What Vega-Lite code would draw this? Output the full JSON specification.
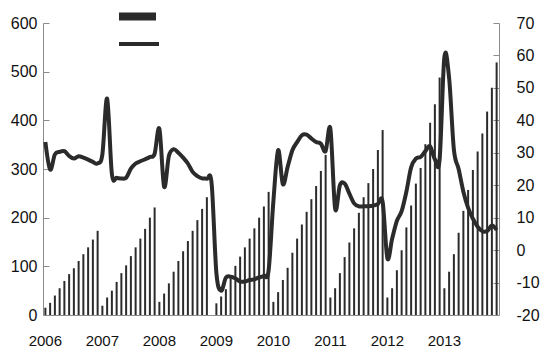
{
  "$schema": "https://vega.github.io/schema/vega-lite/v6.json",
  "width": 456,
  "height": 292,
  "autosize": {"type": "none"},
  "padding": {"left": 43, "top": 23, "right": 51, "bottom": 44},
  "background": "white",
  "config": {
    "view": {"stroke": null},
    "font": "Liberation Sans",
    "axis": {"labelFont": "Liberation Sans", "labelColor": "#111111", "domainColor": "#8c8c8c", "tickColor": "#8c8c8c", "grid": false, "title": null}
  },
  "data": {"values": [
    {"month": "2006-01", "output": 15, "growth": 33.3},
    {"month": "2006-02", "output": 25, "growth": 24.8},
    {"month": "2006-03", "output": 40, "growth": 29.5},
    {"month": "2006-04", "output": 55, "growth": 30.3},
    {"month": "2006-05", "output": 70, "growth": 30.5},
    {"month": "2006-06", "output": 84, "growth": 29},
    {"month": "2006-07", "output": 96, "growth": 28.2},
    {"month": "2006-08", "output": 111, "growth": 28.9},
    {"month": "2006-09", "output": 125, "growth": 28.5},
    {"month": "2006-10", "output": 139, "growth": 27.9},
    {"month": "2006-11", "output": 155, "growth": 27.2},
    {"month": "2006-12", "output": 173, "growth": 26.7},
    {"month": "2007-01", "output": 19, "growth": 29.5},
    {"month": "2007-02", "output": 36, "growth": 46.7},
    {"month": "2007-03", "output": 50, "growth": 23.5},
    {"month": "2007-04", "output": 68, "growth": 22.3},
    {"month": "2007-05", "output": 86, "growth": 22.1},
    {"month": "2007-06", "output": 102, "growth": 22.3},
    {"month": "2007-07", "output": 121, "growth": 25.1},
    {"month": "2007-08", "output": 139, "growth": 26.7},
    {"month": "2007-09", "output": 157, "growth": 27.4},
    {"month": "2007-10", "output": 177, "growth": 28},
    {"month": "2007-11", "output": 200, "growth": 28.7},
    {"month": "2007-12", "output": 221, "growth": 29.7},
    {"month": "2008-01", "output": 27, "growth": 37.4},
    {"month": "2008-02", "output": 44, "growth": 19.5},
    {"month": "2008-03", "output": 65, "growth": 29},
    {"month": "2008-04", "output": 89, "growth": 31.1},
    {"month": "2008-05", "output": 111, "growth": 30},
    {"month": "2008-06", "output": 131, "growth": 28.5},
    {"month": "2008-07", "output": 152, "growth": 26.7},
    {"month": "2008-08", "output": 173, "growth": 24.1},
    {"month": "2008-09", "output": 195, "growth": 22.8},
    {"month": "2008-10", "output": 218, "growth": 22.1},
    {"month": "2008-11", "output": 242, "growth": 22},
    {"month": "2008-12", "output": 0, "growth": 20.5},
    {"month": "2009-01", "output": 24, "growth": -7},
    {"month": "2009-02", "output": 38, "growth": -12.5},
    {"month": "2009-03", "output": 53, "growth": -8.5},
    {"month": "2009-04", "output": 75, "growth": -8.2},
    {"month": "2009-05", "output": 101, "growth": -8.7},
    {"month": "2009-06", "output": 120, "growth": -9.7},
    {"month": "2009-07", "output": 139, "growth": -9.7},
    {"month": "2009-08", "output": 157, "growth": -9.2},
    {"month": "2009-09", "output": 178, "growth": -9},
    {"month": "2009-10", "output": 200, "growth": -8.4},
    {"month": "2009-11", "output": 223, "growth": -7.9},
    {"month": "2009-12", "output": 253, "growth": -6.2},
    {"month": "2010-01", "output": 27, "growth": 15},
    {"month": "2010-02", "output": 47, "growth": 30.8},
    {"month": "2010-03", "output": 72, "growth": 20.3},
    {"month": "2010-04", "output": 97, "growth": 25.6},
    {"month": "2010-05", "output": 128, "growth": 30.8},
    {"month": "2010-06", "output": 157, "growth": 33.3},
    {"month": "2010-07", "output": 186, "growth": 35.4},
    {"month": "2010-08", "output": 212, "growth": 35.6},
    {"month": "2010-09", "output": 238, "growth": 34.4},
    {"month": "2010-10", "output": 265, "growth": 33.3},
    {"month": "2010-11", "output": 296, "growth": 32.8},
    {"month": "2010-12", "output": 329, "growth": 30.5},
    {"month": "2011-01", "output": 36, "growth": 37.4},
    {"month": "2011-02", "output": 55, "growth": 12.8},
    {"month": "2011-03", "output": 86, "growth": 20},
    {"month": "2011-04", "output": 119, "growth": 20.5},
    {"month": "2011-05", "output": 149, "growth": 17.4},
    {"month": "2011-06", "output": 178, "growth": 14.4},
    {"month": "2011-07", "output": 210, "growth": 13.5},
    {"month": "2011-08", "output": 242, "growth": 13.5},
    {"month": "2011-09", "output": 271, "growth": 13.5},
    {"month": "2011-10", "output": 300, "growth": 13.7},
    {"month": "2011-11", "output": 339, "growth": 14.2},
    {"month": "2011-12", "output": 380, "growth": 14.9},
    {"month": "2012-01", "output": 36, "growth": -2.5},
    {"month": "2012-02", "output": 55, "growth": 3.5},
    {"month": "2012-03", "output": 92, "growth": 9},
    {"month": "2012-04", "output": 133, "growth": 12},
    {"month": "2012-05", "output": 180, "growth": 18},
    {"month": "2012-06", "output": 225, "growth": 25.5},
    {"month": "2012-07", "output": 270, "growth": 28.2},
    {"month": "2012-08", "output": 302, "growth": 28.7},
    {"month": "2012-09", "output": 351, "growth": 30.5},
    {"month": "2012-10", "output": 395, "growth": 32},
    {"month": "2012-11", "output": 433, "growth": 28},
    {"month": "2012-12", "output": 488, "growth": 28},
    {"month": "2013-01", "output": 55, "growth": 59.5},
    {"month": "2013-02", "output": 89, "growth": 53},
    {"month": "2013-03", "output": 125, "growth": 31},
    {"month": "2013-04", "output": 169, "growth": 25},
    {"month": "2013-05", "output": 214, "growth": 18},
    {"month": "2013-06", "output": 257, "growth": 13},
    {"month": "2013-07", "output": 298, "growth": 9.7},
    {"month": "2013-08", "output": 336, "growth": 7.2},
    {"month": "2013-09", "output": 373, "growth": 5.8},
    {"month": "2013-10", "output": 418, "growth": 5.9},
    {"month": "2013-11", "output": 467, "growth": 7.6},
    {"month": "2013-12", "output": 519, "growth": 6.2}
  ]},
  "encoding": {
    "x": {
      "field": "month",
      "type": "ordinal",
      "sort": null,
      "scale": {"paddingInner": 0, "paddingOuter": 0},
      "axis": {
        "ticks": false,
        "labelAngle": 0,
        "labelFontSize": 15,
        "labelPadding": 18,
        "labelOverlap": false,
        "labelExpr": "substring(datum.value, 5, 7) == '01' ? substring(datum.value, 0, 4) : ''"
      }
    }
  },
  "layer": [
    {
      "mark": {"type": "bar", "width": 2},
      "encoding": {
        "y": {
          "field": "output",
          "type": "quantitative",
          "scale": {"domain": [0, 600], "nice": false},
          "axis": {"orient": "left", "values": [0, 100, 200, 300, 400, 500, 600], "tickSize": -6, "labelPadding": 12, "labelFontSize": 16}
        },
        "color": {
          "datum": "output",
          "scale": {"range": ["#2b2b2b"]},
          "legend": {
            "orient": "none", "legendX": 76, "legendY": -25, "title": null, "padding": 0,
            "symbolType": "M-1,-0.22H1V0.22H-1Z", "symbolSize": 1369, "symbolStrokeWidth": 0,
            "labelExpr": "''"
          }
        }
      }
    },
    {
      "mark": {"type": "line", "interpolate": "cardinal", "strokeWidth": 4},
      "encoding": {
        "y": {
          "field": "growth",
          "type": "quantitative",
          "scale": {"domain": [-20, 70], "nice": false},
          "axis": {"orient": "right", "values": [-20, -10, 0, 10, 20, 30, 40, 50, 60, 70], "tickSize": -6, "labelPadding": 23, "labelFontSize": 16, "labelExpr": "'' + datum.value"}
        },
        "color": {
          "datum": "growth",
          "scale": {"range": ["#2b2b2b"]},
          "legend": {
            "orient": "none", "legendX": 74, "legendY": -1, "title": null, "padding": 0,
            "symbolType": "stroke", "symbolSize": 1600, "symbolStrokeWidth": 4,
            "labelExpr": "''"
          }
        }
      }
    }
  ],
  "resolve": {"scale": {"y": "independent", "color": "independent"}}
}
